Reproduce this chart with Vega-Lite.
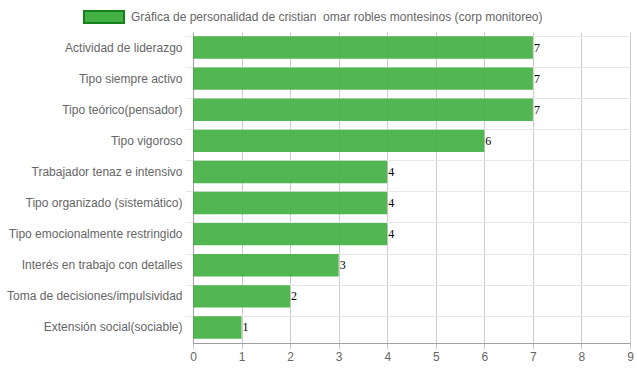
{
  "$schema": "https://vega.github.io/schema/vega-lite/v6.json",
  "width": 437,
  "height": 311,
  "autosize": {"type": "none"},
  "padding": {"left": 193, "top": 32, "right": 7, "bottom": 28},
  "background": "white",
  "config": {
    "view": {"stroke": null},
    "font": "Liberation Sans"
  },
  "data": {
    "values": [
      {"rasgo": "Actividad de liderazgo", "valor": 7, "serie": "Gráfica de personalidad de cristian\u00a0 omar robles montesinos (corp monitoreo)"},
      {"rasgo": "Tipo siempre activo", "valor": 7, "serie": "Gráfica de personalidad de cristian\u00a0 omar robles montesinos (corp monitoreo)"},
      {"rasgo": "Tipo teórico(pensador)", "valor": 7, "serie": "Gráfica de personalidad de cristian\u00a0 omar robles montesinos (corp monitoreo)"},
      {"rasgo": "Tipo vigoroso", "valor": 6, "serie": "Gráfica de personalidad de cristian\u00a0 omar robles montesinos (corp monitoreo)"},
      {"rasgo": "Trabajador tenaz e intensivo", "valor": 4, "serie": "Gráfica de personalidad de cristian\u00a0 omar robles montesinos (corp monitoreo)"},
      {"rasgo": "Tipo organizado (sistemático)", "valor": 4, "serie": "Gráfica de personalidad de cristian\u00a0 omar robles montesinos (corp monitoreo)"},
      {"rasgo": "Tipo emocionalmente restringido", "valor": 4, "serie": "Gráfica de personalidad de cristian\u00a0 omar robles montesinos (corp monitoreo)"},
      {"rasgo": "Interés en trabajo con detalles", "valor": 3, "serie": "Gráfica de personalidad de cristian\u00a0 omar robles montesinos (corp monitoreo)"},
      {"rasgo": "Toma de decisiones/impulsividad", "valor": 2, "serie": "Gráfica de personalidad de cristian\u00a0 omar robles montesinos (corp monitoreo)"},
      {"rasgo": "Extensión social(sociable)", "valor": 1, "serie": "Gráfica de personalidad de cristian\u00a0 omar robles montesinos (corp monitoreo)"}
    ]
  },
  "encoding": {
    "y": {
      "field": "rasgo",
      "type": "nominal",
      "sort": null,
      "title": null,
      "scale": {"paddingInner": 0.28, "paddingOuter": 0.14},
      "axis": {
        "bandPosition": 0,
        "grid": true,
        "gridColor": "#e8e8e8",
        "gridWidth": 1,
        "domainColor": "#a0a0a0",
        "tickColor": "#e8e8e8",
        "tickSize": 8,
        "labelFontSize": 12,
        "labelColor": "#666666",
        "labelPadding": 3,
        "labelBound": false
      }
    },
    "x": {
      "field": "valor",
      "type": "quantitative",
      "title": null,
      "scale": {"domain": [0, 9], "nice": false},
      "axis": {
        "values": [0, 1, 2, 3, 4, 5, 6, 7, 8, 9],
        "format": "d",
        "grid": true,
        "gridColor": "#cccccc",
        "domainColor": "#a0a0a0",
        "tickColor": "#cccccc",
        "tickSize": 6,
        "labelFontSize": 12,
        "labelColor": "#666666",
        "labelPadding": 2,
        "labelFlush": false
      }
    }
  },
  "layer": [
    {
      "mark": {"type": "bar", "fillOpacity": 0.92},
      "encoding": {
        "color": {
          "field": "serie",
          "type": "nominal",
          "scale": {"range": ["#43b043"]},
          "legend": {
            "orient": "none",
            "legendX": -110,
            "legendY": -36,
            "title": null,
            "symbolType": "M-1,-0.3H1V0.3H-1Z",
            "symbolSize": 1600,
            "symbolStrokeColor": "#14821a",
            "symbolStrokeWidth": 2,
            "symbolOpacity": 1,
            "labelFontSize": 12,
            "labelColor": "#666666",
            "labelOffset": 6,
            "labelLimit": 600
          }
        }
      }
    },
    {
      "mark": {"type": "text", "align": "left", "baseline": "middle", "dx": 1, "font": "Liberation Serif", "fontSize": 12, "color": "black"},
      "encoding": {"text": {"field": "valor", "type": "quantitative"}}
    }
  ]
}
